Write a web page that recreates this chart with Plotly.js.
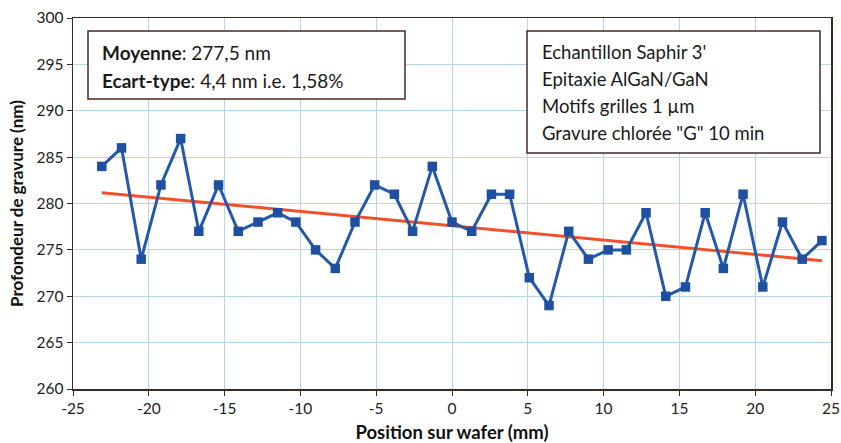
<!DOCTYPE html>
<html>
<head>
<meta charset="utf-8">
<script src="https://cdn.plot.ly/plotly-3.0.1.min.js"></script>
<style>
html,body{margin:0;padding:0;background:#fff;}
#chart{width:841px;height:443px;}
</style>
</head>
<body>
<div id="chart"></div>
<script>
// Position on wafer (mm)
const positions = [-23.1, -21.8, -20.5, -19.2, -17.9, -16.7, -15.4, -14.1, -12.8, -11.5,
  -10.3, -9.0, -7.7, -6.4, -5.1, -3.8, -2.6, -1.3, 0.0, 1.3,
  2.6, 3.8, 5.1, 6.4, 7.7, 9.0, 10.3, 11.5, 12.8, 14.1,
  15.4, 16.7, 17.9, 19.2, 20.5, 21.8, 23.1, 24.4];
// Etch depth (nm)
const depths = [284, 286, 274, 282, 287, 277, 282, 277, 278, 279,
  278, 275, 273, 278, 282, 281, 277, 284, 278, 277,
  281, 281, 272, 269, 277, 274, 275, 275, 279, 270,
  271, 279, 273, 281, 271, 278, 274, 276];
const xTicks = [-25, -20, -15, -10, -5, 0, 5, 10, 15, 20, 25];
const yTicks = [260, 265, 270, 275, 280, 285, 290, 295, 300];
const statsLines = ["<b>Moyenne</b>: 277,5 nm", "<b>Ecart-type</b>: 4,4 nm i.e. 1,58%"];
const infoLines = ["Echantillon Saphir 3'", "Epitaxie AlGaN/GaN", "Motifs grilles 1 µm", "Gravure chlorée \"G\" 10 min"];

// Linear trendline (least squares) computed from the data
const n = positions.length;
const mx = positions.reduce((a, b) => a + b, 0) / n;
const my = depths.reduce((a, b) => a + b, 0) / n;
let sxy = 0, sxx = 0;
for (let i = 0; i < n; i++) { sxy += (positions[i] - mx) * (depths[i] - my); sxx += (positions[i] - mx) ** 2; }
const slope = sxy / sxx, icpt = my - slope * mx;
const trendX = [positions[0], positions[n - 1]];
const trendY = trendX.map(x => icpt + slope * x);

const statsFont = {family: 'Lato, "Open Sans", sans-serif', size: 19, color: '#1a1a1a'};
const infoFont = {family: 'Lato, "Open Sans", sans-serif', size: 18.5, color: '#1a1a1a'};
const xTitleFont = {family: '"Liberation Sans Narrow", Lato, sans-serif', size: 18.5, color: '#111'};
const yTitleFont = {family: '"Liberation Sans Narrow", Lato, sans-serif', size: 17, color: '#111'};
const tickFont = {family: 'Lato, sans-serif', size: 15.5, color: '#222'};

const traces = [
  {x: trendX, y: trendY, mode: 'lines', line: {color: '#f2502a', width: 3}, hoverinfo: 'skip'},
  {x: positions, y: depths, mode: 'lines+markers',
   line: {color: '#2458a8', width: 3},
   marker: {symbol: 'square', size: 9.5, color: '#1f4fa0'}}
];

const annotations = [];
const statsY = [52, 80];
statsLines.forEach((t, i) => annotations.push({
  text: t, xref: 'paper', yref: 'paper', x: (100 - 73) / 758, y: (389 - statsY[i]) / 371,
  xanchor: 'left', yanchor: 'middle', showarrow: false, font: statsFont}));
const infoY = [52, 79, 106, 133];
infoLines.forEach((t, i) => annotations.push({
  text: t, xref: 'paper', yref: 'paper', x: (540 - 73) / 758, y: (389 - infoY[i]) / 371,
  xanchor: 'left', yanchor: 'middle', showarrow: false, font: infoFont}));

const boxLine = {color: '#4a2a22', width: 1.5};
const layout = {
  width: 841, height: 443,
  margin: {l: 73, r: 10, t: 18, b: 54},
  paper_bgcolor: '#fff', plot_bgcolor: '#fff',
  showlegend: false,
  xaxis: {
    range: [-25, 25], tickvals: xTicks, ticktext: xTicks.map(String),
    showgrid: true, gridcolor: '#b4d6ea', gridwidth: 1, zeroline: false,
    showline: true, linecolor: '#3a2a24', linewidth: 1.5, mirror: true,
    ticks: 'outside', ticklen: 5, tickcolor: '#3a2a24', tickfont: tickFont,
    title: {text: '<b>Position sur wafer (mm)</b>', font: xTitleFont, standoff: 10}
  },
  yaxis: {
    range: [260, 300], tickvals: yTicks, ticktext: yTicks.map(String),
    showgrid: true, gridcolor: '#b4d6ea', gridwidth: 1, zeroline: false,
    showline: true, linecolor: '#3a2a24', linewidth: 1.5, mirror: true,
    ticks: 'outside', ticklen: 5, tickcolor: '#3a2a24', tickfont: tickFont,
    title: {text: '<b>Profondeur de gravure (nm)</b>', font: yTitleFont, standoff: 8}
  },
  shapes: [
    {type: 'rect', xref: 'paper', yref: 'paper', x0: (88 - 73) / 758, x1: (405 - 73) / 758,
     y0: (389 - 99) / 371, y1: (389 - 31) / 371, line: boxLine, fillcolor: 'rgba(255,255,255,1)', layer: 'above'},
    {type: 'rect', xref: 'paper', yref: 'paper', x0: (527 - 73) / 758, x1: (820 - 73) / 758,
     y0: (389 - 153) / 371, y1: (389 - 31) / 371, line: boxLine, fillcolor: 'rgba(255,255,255,1)', layer: 'above'}
  ],
  annotations: annotations
};

Plotly.newPlot('chart', traces, layout, {displayModeBar: false, staticPlot: true});
</script>
</body>
</html>
